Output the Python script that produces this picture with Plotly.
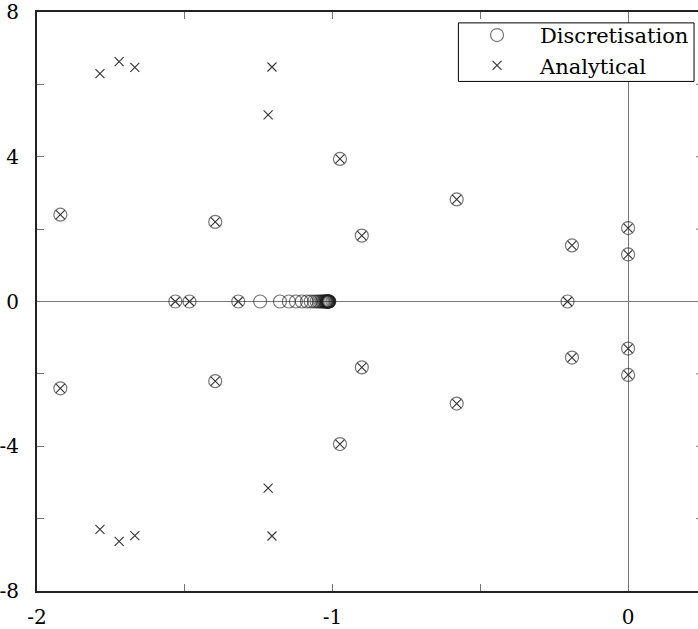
import plotly.graph_objects as go

# Poles in the complex plane: discretised model vs. analytical solution
disc_re = [-1.921, -1.921, -1.397, -1.397, -0.975, -0.975, -0.580, -0.580,
           -0.901, -0.901, -0.190, -0.190, 0.0, 0.0, 0.0, 0.0, -0.205,
           -1.532, -1.484, -1.319, -1.245, -1.178, -1.148, -1.124, -1.104,
           -1.087, -1.074, -1.063, -1.054, -1.047, -1.041, -1.036, -1.032,
           -1.029, -1.026, -1.024, -1.022, -1.020, -1.019, -1.018, -1.017,
           -1.016, -1.015, -1.014, -1.013, -1.012, -1.011]
disc_im = [2.40, -2.40, 2.20, -2.20, 3.94, -3.94, 2.82, -2.82,
           1.82, -1.82, 1.55, -1.55, 1.30, -1.30, 2.03, -2.03, 0.0,
           0.0, 0.0, 0.0, 0.0, 0.0, 0.0, 0.0, 0.0,
           0.0, 0.0, 0.0, 0.0, 0.0, 0.0, 0.0, 0.0,
           0.0, 0.0, 0.0, 0.0, 0.0, 0.0, 0.0, 0.0,
           0.0, 0.0, 0.0, 0.0, 0.0, 0.0]

anal_re = [-1.787, -1.787, -1.722, -1.722, -1.669, -1.669, -1.205, -1.205,
           -1.218, -1.218, -1.921, -1.921, -1.397, -1.397, -0.975, -0.975,
           -0.580, -0.580, -0.901, -0.901, -0.190, -0.190, 0.0, 0.0, 0.0, 0.0,
           -0.205, -1.532, -1.484, -1.319]
anal_im = [6.30, -6.30, 6.63, -6.63, 6.47, -6.47, 6.48, -6.48,
           5.16, -5.16, 2.40, -2.40, 2.20, -2.20, 3.94, -3.94,
           2.82, -2.82, 1.82, -1.82, 1.55, -1.55, 1.30, -1.30, 2.03, -2.03,
           0.0, 0.0, 0.0, 0.0]

x_ticks = [-2, -1, 0]
x_labels = ["-2", "-1", "0"]
y_ticks = [-8, -4, 0, 4, 8]
y_labels = ["-8", "-4", "0", "4", "8"]

FONT = "DejaVu Serif"

fig = go.Figure()
fig.add_trace(go.Scatter(
    x=disc_re, y=disc_im, mode="markers", name="Discretisation",
    marker=dict(symbol="circle-open", size=13,
                line=dict(color="rgba(30,30,30,0.6)", width=1.2),
                color="rgba(30,30,30,0.6)"),
))
fig.add_trace(go.Scatter(
    x=anal_re, y=anal_im, mode="markers", name="Analytical",
    marker=dict(symbol="x-thin-open", size=9,
                line=dict(color="#333333", width=1.1), color="#333333"),
))

# short inward ticks on the right border
right_ticks = [-6, -4, -2, 2, 4, 6]
for yv in right_ticks:
    fig.add_shape(type="line", xref="paper", yref="y", x0=0.997, x1=1.0,
                  y0=yv, y1=yv, line=dict(color="#777777", width=1))

# tight frame around the key
fig.add_shape(type="rect", xref="paper", yref="paper",
              x0=0.6375, x1=0.994, y0=0.8801, y1=0.9812,
              line=dict(color="black", width=1), fillcolor="white",
              layer="above")

fig.update_layout(
    width=698, height=629,
    margin=dict(l=36, r=0, t=10, b=35),
    paper_bgcolor="white", plot_bgcolor="white",
    font=dict(family=FONT, size=20, color="black"),
    showlegend=True,
    legend=dict(x=0.994, y=0.995, xanchor="right", yanchor="top",
                borderwidth=0, bgcolor="rgba(0,0,0,0)",
                font=dict(family=FONT, size=21, color="black"),
                itemwidth=76, tracegroupgap=0),
)
fig.update_xaxes(
    range=[-2, 0.2365], tickvals=x_ticks, ticktext=x_labels,
    ticks="inside", ticklen=7, tickcolor="#777777", tickwidth=1,
    minor=dict(dtick=0.5, ticks="inside", ticklen=7, tickcolor="#777777"),
    showline=True, linecolor="#222222", linewidth=2, mirror="allticks",
    showgrid=False, zeroline=True, zerolinecolor="#777777", zerolinewidth=1,
    ticklabelstandoff=7, ticklabeloverflow="allow",
    tickfont=dict(family=FONT, size=20, color="black"),
)
fig.update_yaxes(
    range=[-8, 8], tickvals=y_ticks, ticktext=y_labels,
    ticks="inside", ticklen=7, tickcolor="#777777", tickwidth=1,
    minor=dict(dtick=2, ticks="inside", ticklen=7, tickcolor="#777777"),
    showline=True, linecolor="#222222", linewidth=2, mirror=False,
    showgrid=False, zeroline=True, zerolinecolor="#777777", zerolinewidth=1,
    ticklabelstandoff=12, ticklabeloverflow="allow",
    tickfont=dict(family=FONT, size=20, color="black"),
)

fig.write_html("out.html")
